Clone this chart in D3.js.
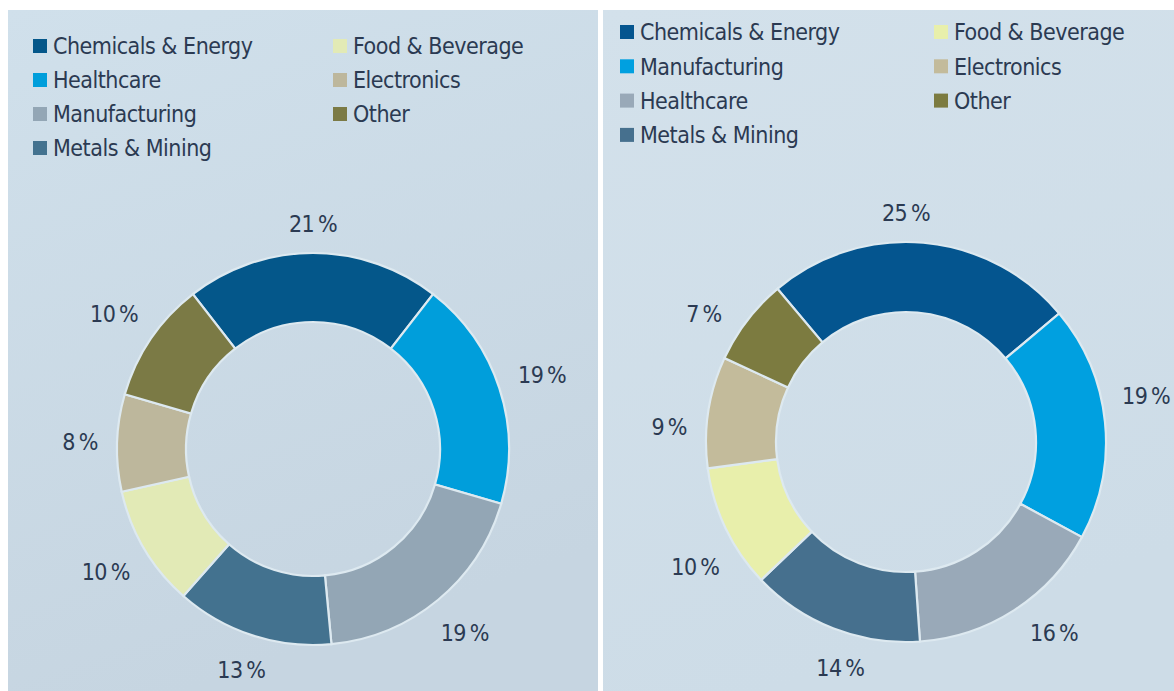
<!DOCTYPE html>
<html>
<head>
<meta charset="utf-8">
<script src="https://cdn.jsdelivr.net/npm/d3@7"></script>
<style>
  html, body { margin: 0; padding: 0; background: #fff; }
  svg { display: block; }
  text { font-family: 'Liberation Sans Narrow', 'DejaVu Sans Condensed', sans-serif; fill: #2b3a52; }
</style>
</head>
<body>
<svg id="chart" width="1174" height="691"></svg>
<script>
// left chart
const leftCategories = ['Chemicals & Energy', 'Healthcare', 'Manufacturing', 'Metals & Mining', 'Food & Beverage', 'Electronics', 'Other']
const leftValues = [21, 19, 19, 13, 10, 8, 10]
const leftColors = ['#04578a', '#009edb', '#93a6b5', '#43728f', '#e2eab6', '#bdb79c', '#7b7a45']

// right chart
const rightCategories = ['Chemicals & Energy', 'Manufacturing', 'Healthcare', 'Metals & Mining', 'Food & Beverage', 'Electronics', 'Other']
const rightValues = [25, 19, 16, 14, 10, 9, 7]
const rightColors = ['#04558f', '#00a0e0', '#99a9b8', '#46708e', '#e8efab', '#c3bb9b', '#7c7b40']

const svg = d3.select('#chart')
const defs = svg.append('defs')

function gradient (id, c1, c2) {
  let g = defs.append('linearGradient')
    .attr('id', id)
    .attr('x1', '0').attr('y1', '0').attr('x2', '0.3').attr('y2', '1')
  g.append('stop').attr('offset', '0').attr('stop-color', c1)
  g.append('stop').attr('offset', '1').attr('stop-color', c2)
}
gradient('bgLeft', '#d0e0eb', '#c6d5e1')
gradient('bgRight', '#d3e1eb', '#cddce7')

function donut (opts) {
  let panel = svg.append('g')

  panel.append('rect')
    .attr('x', opts.x).attr('y', 10)
    .attr('width', opts.w).attr('height', 691 - 10)
    .attr('fill', 'url(#' + opts.bg + ')')

  // legend, two columns
  let legend = panel.append('g')
  opts.categories.forEach((name, i) => {
    let col = i < 4 ? 0 : 1
    let row = i < 4 ? i : i - 4
    let lx = opts.legendX[col]
    let ly = opts.legendY + row * opts.rowStep
    legend.append('rect')
      .attr('x', lx).attr('y', ly - 7)
      .attr('width', 14).attr('height', 14)
      .attr('fill', opts.colors[i])
    legend.append('text')
      .attr('x', lx + 20).attr('y', ly)
      .attr('dy', '0.36em')
      .style('font-size', '23px')
      .style('letter-spacing', '-0.5px')
      .text(name)
  })

  let pie = d3.pie()
    .sort(null)
    .value(d => d)
    .startAngle(opts.start * Math.PI / 180)
    .endAngle(opts.start * Math.PI / 180 + 2 * Math.PI)

  // labels sit round the slice centres of a pie that is centred on the first slice
  let labelStart = -opts.values[0] * 1.8 * Math.PI / 180
  let labelPie = d3.pie()
    .sort(null)
    .value(d => d)
    .startAngle(labelStart)
    .endAngle(labelStart + 2 * Math.PI)

  let arc = d3.arc().innerRadius(opts.rIn).outerRadius(opts.rOut)

  let g = panel.append('g')
    .attr('transform', 'translate(' + opts.cx + ',' + opts.cy + ')')

  g.selectAll('path').data(pie(opts.values))
    .enter().append('path')
    .attr('d', arc)
    .attr('fill', (d, i) => opts.colors[i])
    .attr('stroke', '#dde9f0')
    .attr('stroke-width', 2.2)

  g.selectAll('text.pct').data(labelPie(opts.values))
    .enter().append('text')
    .attr('class', 'pct')
    .style('font-size', '23px')
    .style('letter-spacing', '-0.5px')
    .attr('text-anchor', 'middle')
    .attr('dy', '0.36em')
    .text(d => d.value + '\u2009%')
    .attr('transform', function (d) {
      let a = (d.startAngle + d.endAngle) / 2
      let w = this.getComputedTextLength()
      let r = opts.rOut + 19 + Math.abs(Math.sin(a)) * w / 2 + Math.abs(Math.cos(a)) * 10
      return 'translate(' + (Math.sin(a) * r) + ',' + (-Math.cos(a) * r) + ')'
    })
}

donut({
  x: 8, w: 590, bg: 'bgLeft',
  categories: leftCategories, values: leftValues, colors: leftColors,
  legendX: [33, 333], legendY: 46, rowStep: 34,
  cx: 313, cy: 449, rOut: 196, rIn: 127,
  start: -leftValues[0] * 1.8
})

donut({
  x: 603, w: 571, bg: 'bgRight',
  categories: rightCategories, values: rightValues, colors: rightColors,
  legendX: [620, 934], legendY: 32, rowStep: 34.3,
  cx: 906, cy: 442, rOut: 200, rIn: 130,
  start: -40
})
</script>
</body>
</html>
